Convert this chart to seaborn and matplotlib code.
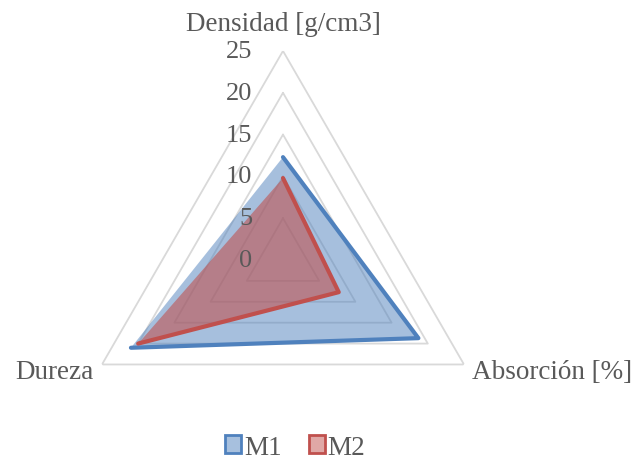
import numpy as np
import pandas as pd
import seaborn as sns
import matplotlib
matplotlib.use("Agg")
import matplotlib.pyplot as plt
from matplotlib.patches import Patch

# data
categories = ["Densidad [g/cm3]", "Absorción [%]", "Dureza"]
m1_values = [12.3, 18.7, 21.0]
m2_values = [9.8, 7.7, 20.0]
r_ticks = [0, 5, 10, 15, 20, 25]
series_names = ["M1", "M2"]

sns.set_style("white")
plt.rcParams["font.family"] = ["Liberation Serif", "DejaVu Serif"]
text_color = "#595959"

blue = "#4F81BD"
red = "#C0504D"

angles = np.linspace(0, 2 * np.pi, len(categories), endpoint=False)
closed_angles = np.append(angles, angles[0])

fig = plt.figure(figsize=(6.35, 4.64), dpi=100)
ax = fig.add_axes([0.1165, -0.0129, 0.6583, 0.9009], projection="polar")
ax.set_theta_offset(np.pi / 2)
ax.set_theta_direction(-1)
ax.set_ylim(0, 25)
ax.grid(False)
ax.spines["polar"].set_visible(False)
ax.set_xticks([])
ax.set_yticks([])
ax.set_facecolor("none")

# triangular gridlines
for r in r_ticks[1:]:
    ax.plot(closed_angles, [r] * len(closed_angles), color="#D9D9D9", lw=1.3, zorder=1)

# series
for name, vals, col, a in [("M1", m1_values, blue, 0.5), ("M2", m2_values, red, 0.58)]:
    df = pd.DataFrame({"ang": closed_angles, "val": vals + vals[:1]})
    ax.fill(df["ang"], df["val"], color=col, alpha=a, lw=0, zorder=2)
    sns.lineplot(data=df, x="ang", y="val", sort=False, color=col, lw=3,
                 ax=ax, zorder=3, legend=False)
ax.set_xlabel("")
ax.set_ylabel("")
ax.set_ylim(0, 25)

# radial tick labels
for r in r_ticks:
    ax.annotate(str(r), xy=(0, r), xytext=(-22, 0), textcoords="offset points",
                ha="right", va="center", fontsize=19, color=text_color)

# category labels
offsets = [((0, 11), "center", "bottom"), ((6, -5), "left", "center"), ((-6, -5), "right", "center")]
for ang, lab, (off, ha, va) in zip(angles, categories, offsets):
    ax.annotate(lab, xy=(ang, 25), xytext=off, textcoords="offset points",
                ha=ha, va=va, fontsize=19.5, color=text_color, annotation_clip=False)

handles = [Patch(facecolor="#A7C0DE", edgecolor=blue, lw=2, label="M1"),
           Patch(facecolor="#E0A8A6", edgecolor=red, lw=2, label="M2")]
fig.legend(handles=handles, loc="lower center", bbox_to_anchor=(0.465, -0.045), ncol=2,
           frameon=False, fontsize=19.5, handlelength=0.6, handleheight=0.6,
           handletextpad=0.1, columnspacing=1.0, labelcolor=text_color)

fig.savefig("out.png", dpi=100)
